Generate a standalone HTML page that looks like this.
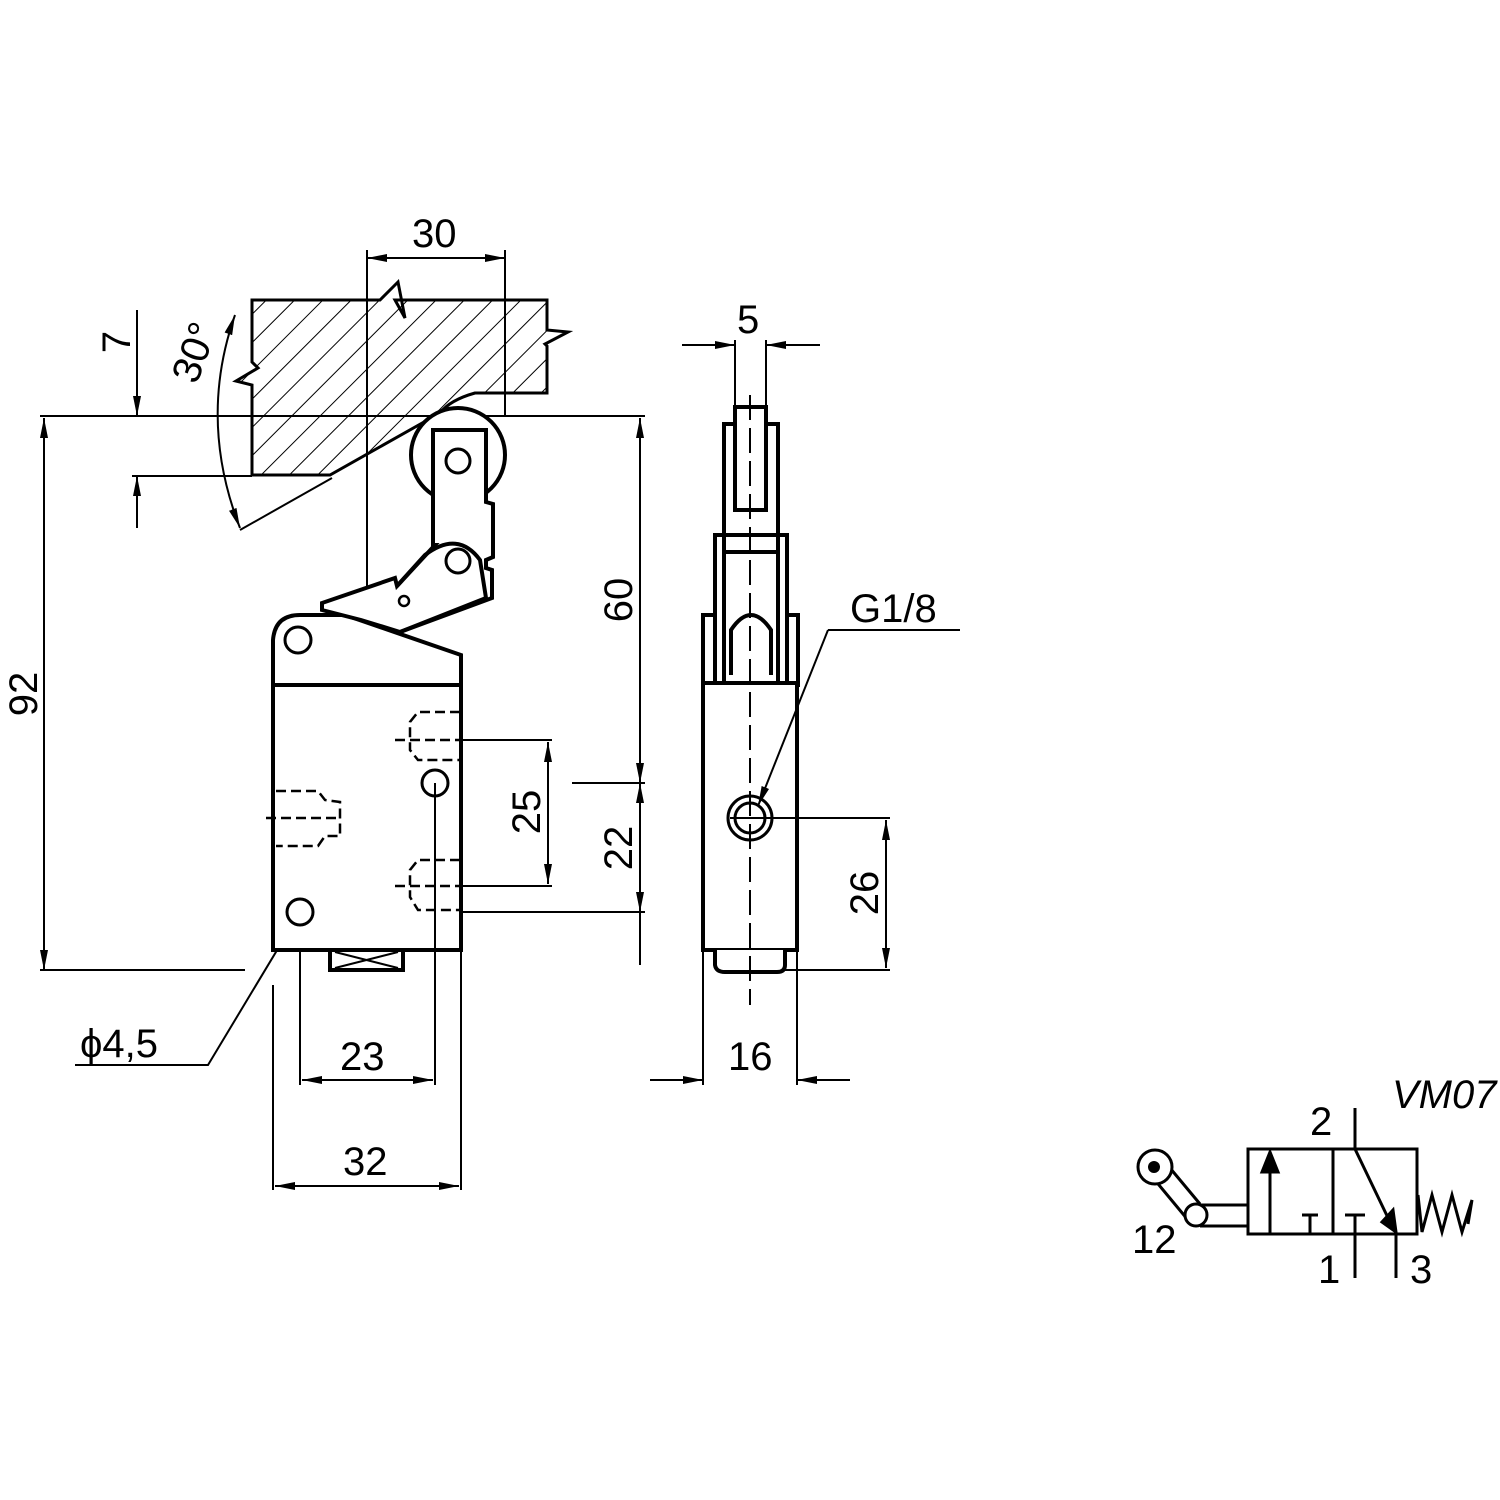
<!DOCTYPE html>
<html><head><style>html,body{margin:0;padding:0;background:#fff}svg{display:block}</style></head><body>
<svg width="1500" height="1500" viewBox="0 0 1500 1500" xmlns="http://www.w3.org/2000/svg">
<defs>
<pattern id="h" patternUnits="userSpaceOnUse" width="20" height="20" patternTransform="rotate(45)">
<line x1="0" y1="0" x2="0" y2="20" stroke="#000" stroke-width="2"/></pattern>
<marker id="a" viewBox="0 0 20 8" refX="20" refY="4" markerWidth="20" markerHeight="8" markerUnits="userSpaceOnUse" orient="auto-start-reverse"><path d="M0,0 L20,4 L0,8z" fill="#000"/></marker>
</defs>
<g font-family="Liberation Sans, sans-serif" font-size="40" fill="#000">
<!-- hatched block -->
<path d="M252,300 L380,300 L398,282 L405,318 L395,300 L547,300 L547,330 L568,332 L545,344 L547,346 L547,393 L475,393 Q450,400 440,413 L330,475 L252,475 L252,385 L236,381 L258,368 L252,362 Z" fill="url(#h)" stroke="#000" stroke-width="3"/>
<g fill="none" stroke="#000" stroke-width="2">
<!-- centerlines/extension -->
<line x1="40" y1="416" x2="645" y2="416"/>
<line x1="367" y1="250" x2="367" y2="950"/>
<line x1="505" y1="250" x2="505" y2="416"/>
<line x1="132" y1="476" x2="252" y2="476"/>
<line x1="240" y1="530" x2="332" y2="478"/>
<path d="M235,315 Q198,420 240,528" marker-start="url(#a)" marker-end="url(#a)" stroke-dasharray="none"/>
<line x1="137" y1="310" x2="137" y2="416" marker-end="url(#a)"/>
<line x1="137" y1="528" x2="137" y2="476" marker-end="url(#a)"/>
<line x1="367" y1="258" x2="505" y2="258" marker-start="url(#a)" marker-end="url(#a)"/>
<!-- 92 -->
<line x1="44" y1="418" x2="44" y2="970" marker-start="url(#a)" marker-end="url(#a)"/>
<line x1="40" y1="970" x2="245" y2="970"/>
<!-- 60 / 22 -->
<line x1="640" y1="418" x2="640" y2="783" marker-start="url(#a)" marker-end="url(#a)"/>
<line x1="640" y1="783" x2="640" y2="912" marker-start="url(#a)" marker-end="url(#a)"/>
<line x1="640" y1="912" x2="640" y2="965"/>
<line x1="572" y1="783" x2="645" y2="783"/>
<line x1="300" y1="912" x2="645" y2="912"/>
<!-- 25 -->
<line x1="460" y1="740" x2="552" y2="740"/>
<line x1="460" y1="886" x2="552" y2="886"/>
<line x1="548" y1="742" x2="548" y2="884" marker-start="url(#a)" marker-end="url(#a)"/>
<!-- 23 / 32 -->
<line x1="300" y1="912" x2="300" y2="1085"/>
<line x1="435" y1="783" x2="435" y2="1085"/>
<line x1="302" y1="1080" x2="433" y2="1080" marker-start="url(#a)" marker-end="url(#a)"/>
<line x1="273" y1="985" x2="273" y2="1190"/>
<line x1="461" y1="950" x2="461" y2="1190"/>
<line x1="275" y1="1186" x2="459" y2="1186" marker-start="url(#a)" marker-end="url(#a)"/>
<!-- d4.5 leader -->
<polyline points="75,1065 208,1065 300,912"/>
<line x1="275" y1="940" x2="300" y2="912" marker-start="url(#a)"/>
<line x1="300" y1="912" x2="326" y2="874" marker-end="url(#a)"/>
</g>
<!-- main body -->
<g fill="none" stroke="#000" stroke-width="4">
<path d="M273,950 L273,640 Q275,615 300,615 L345,615 L461,655 L461,950 Z" fill="#fff"/>
<line x1="273" y1="685" x2="461" y2="685"/>
<rect x="330" y="950" width="73" height="20"/>
<circle cx="298" cy="640" r="13" stroke-width="3"/>
<circle cx="435" cy="783" r="13" stroke-width="3"/>
<circle cx="300" cy="912" r="13" stroke-width="3"/>
</g>
<g fill="none" stroke="#000" stroke-width="2"><line x1="335" y1="952" x2="398" y2="968"/><line x1="335" y1="968" x2="398" y2="952"/><line x1="435" y1="783" x2="435" y2="1085"/></g>
<!-- dashed ports -->
<g fill="none" stroke="#000" stroke-width="2.5" stroke-dasharray="10,5">
<path d="M460,712 L418,712 L410,722 L410,750 L418,760 L460,760"/>
<path d="M460,860 L418,860 L410,870 L410,897 L418,910 L460,910"/>
<path d="M276,791 L318,791 L325,800 L340,802 L340,836 L325,836 L318,846 L276,846"/>
<line x1="395" y1="740" x2="460" y2="740"/><line x1="395" y1="886" x2="460" y2="886"/><line x1="266" y1="818" x2="340" y2="818"/>
</g>
<!-- lever / roller -->
<g fill="#fff" stroke="#000" stroke-width="4">
<circle cx="458" cy="455" r="47"/>
<path d="M433,430 L486,430 L486,502 L493,504 L493,557 L486,560 L486,568 L492,570 L492,598 L400,632 L361,620 L322,610 L322,603 L395,578 L397,586 L435,545 L433,545 Z"/>
<path d="M397,586 L425,555 Q458,530 480,560 L486,598 L400,632" fill="none"/>
<circle cx="458" cy="461" r="12" stroke-width="3"/>
<circle cx="458" cy="561" r="12" stroke-width="3"/>
<circle cx="404" cy="601" r="5" stroke-width="2.5"/>
</g>
<!-- side view -->
<g fill="#fff" stroke="#000" stroke-width="4">
<rect x="703" y="615" width="95" height="70"/>
<rect x="715" y="535" width="72" height="150"/>
<rect x="724" y="424" width="54" height="261"/>
<rect x="735" y="407" width="31" height="103"/>
<line x1="724" y1="535" x2="778" y2="535"/><line x1="724" y1="552" x2="778" y2="552"/>
<path d="M731,675 L731,630 Q751,600 771,630 L771,675"/>
<rect x="703" y="683" width="94" height="267"/>
<path d="M715,950 L715,965 Q716,972 725,972 L777,972 Q785,972 785,965 L785,950"/>
<circle cx="750" cy="818" r="22" stroke-width="3"/><circle cx="750" cy="818" r="15" stroke-width="3"/>
</g>
<g fill="none" stroke="#000" stroke-width="2">
<line x1="750" y1="395" x2="750" y2="1005" stroke-dasharray="25,8"/>
<line x1="735" y1="340" x2="735" y2="407"/><line x1="766" y1="340" x2="766" y2="407"/>
<line x1="682" y1="345" x2="735" y2="345" marker-end="url(#a)"/><line x1="820" y1="345" x2="766" y2="345" marker-end="url(#a)"/>
<line x1="960" y1="630" x2="828" y2="630"/><line x1="828" y1="630" x2="758" y2="806" marker-end="url(#a)"/>
<line x1="730" y1="818" x2="890" y2="818"/><line x1="785" y1="970" x2="890" y2="970"/>
<line x1="886" y1="820" x2="886" y2="968" marker-start="url(#a)" marker-end="url(#a)"/>
<line x1="703" y1="950" x2="703" y2="1085"/><line x1="797" y1="950" x2="797" y2="1085"/>
<line x1="650" y1="1080" x2="703" y2="1080" marker-end="url(#a)"/><line x1="850" y1="1080" x2="797" y2="1080" marker-end="url(#a)"/>
</g>
<!-- texts -->
<text x="412" y="247">30</text>
<text x="737" y="333">5</text>
<text x="850" y="622">G1/8</text>
<text x="340" y="1070">23</text>
<text x="343" y="1175">32</text>
<text x="728" y="1070">16</text>
<text x="80" y="1057">ϕ4,5</text>
<text transform="translate(130,342) rotate(-90)" text-anchor="middle">7</text>
<text transform="translate(207,357) rotate(-70)" text-anchor="middle">30°</text>
<text transform="translate(37,694) rotate(-90)" text-anchor="middle">92</text>
<text transform="translate(632,600) rotate(-90)" text-anchor="middle">60</text>
<text transform="translate(632,848) rotate(-90)" text-anchor="middle">22</text>
<text transform="translate(540,812) rotate(-90)" text-anchor="middle">25</text>
<text transform="translate(878,893) rotate(-90)" text-anchor="middle">26</text>
<!-- symbol -->
<g fill="none" stroke="#000" stroke-width="3">
<rect x="1248" y="1149" width="169" height="85"/>
<line x1="1333" y1="1149" x2="1333" y2="1234"/>
<line x1="1270" y1="1234" x2="1270" y2="1165"/>
<path d="M1262,1172 L1270,1152 L1278,1172Z" fill="#000"/>
<line x1="1302" y1="1215" x2="1318" y2="1215"/><line x1="1310" y1="1215" x2="1310" y2="1234"/>
<line x1="1345" y1="1215" x2="1365" y2="1215"/><line x1="1355" y1="1215" x2="1355" y2="1278"/>
<line x1="1355" y1="1108" x2="1355" y2="1149"/>
<line x1="1355" y1="1149" x2="1390" y2="1222"/>
<path d="M1382,1222 L1396,1232 L1393,1210Z" fill="#000"/>
<line x1="1396" y1="1232" x2="1396" y2="1278"/>
<path d="M1418,1195 L1422,1232 L1432,1195 L1442,1232 L1452,1195 L1462,1232 L1472,1200 L1468,1224"/>
<line x1="1200" y1="1205" x2="1248" y2="1205"/><line x1="1200" y1="1226" x2="1248" y2="1226"/>
<line x1="1144" y1="1167" x2="1188" y2="1220"/><line x1="1160" y1="1156" x2="1200" y2="1204"/>
<circle cx="1155" cy="1167" r="17" fill="#fff"/>
<circle cx="1196" cy="1215" r="11" fill="#fff"/>
</g>
<circle cx="1154" cy="1167" r="6" fill="#000"/>
<text x="1310" y="1135">2</text>
<text x="1318" y="1283">1</text>
<text x="1410" y="1283">3</text>
<text x="1132" y="1253">12</text>
<text x="1392" y="1108" font-style="italic">VM07</text>
</g>
</svg>
</body></html>
